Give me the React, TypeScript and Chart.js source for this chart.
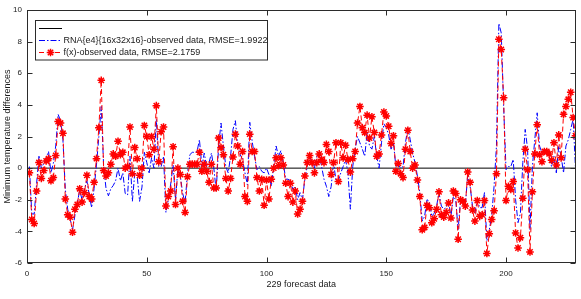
import React, { useEffect, useRef } from 'react';
import { Chart, registerables } from 'chart.js';

Chart.register(...registerables);

const X_MIN = 0;
const X_MAX = 229;
const Y_MIN = -6;
const Y_MAX = 10;
const X_STEP = 50;
const Y_STEP = 2;

const xTitle = '229 forecast data';
const yTitle = 'Minimum temperature differences';
const zeroLabel = '';
const rnaLabel = 'RNA{e4}{16x32x16}-observed data, RMSE=1.9922';
const fxLabel = 'f(x)-observed data, RMSE=2.1759';

// RNA{e4}{16x32x16} minus observed, forecasts 1..229
const rnaValues = [
  0.1, -2.9, -2.9, -1.0, 0.75, 0.0, 0.3, 0.65, 1.05, -0.3,
  0.3, 1.4, 3.4, 3.0, 1.8, -1.35, -2.6, -3.2, -3.9, -3.0,
  -2.2, -1.4, -2.0, -1.3, -0.8, -1.7, -2.5, -1.3, 0.2, 2.0,
  3.9, 0.1, -1.3, -1.75, -1.3, -1.1, -0.8, 0.0, -0.8, -0.3,
  -1.6, -1.7, 0.75, -2.1, -0.3, -0.5, -2.1, -1.2, 1.0, 0.35,
  -0.3, 0.65, 0.0, 3.1, 0.1, 0.1, 0.75, -2.8, -2.0, -1.0,
  0.2, -2.0, 0.0, -0.5, -1.6, -2.2, -0.3, 0.85, 1.0, 1.0,
  1.05, 1.8, 0.1, 0.95, 0.1, 0.35, 0.95, 0.0, -1.45, 1.4,
  2.85, 1.4, 0.1, -0.3, 0.75, 2.45, 3.0, 1.4, 0.85, 0.55,
  -0.3, -1.05, 2.9, 1.7, 0.75, -0.1, 0.1, -0.2, -0.3, 0.0,
  -0.4, -1.15, 0.1, 1.4, 0.75, 1.1, 0.35, -0.7, -0.7, -0.8,
  -1.35, -1.15, -2.0, -1.55, -2.0, -0.7, 0.1, 0.75, 0.35, 0.0,
  0.75, 0.95, 0.1, -0.7, -1.15, -1.8, -1.15, 0.35, -0.8, -0.8,
  -0.3, 0.1, 0.55, -0.3, -2.6, 0.1, 1.2, 2.0, 1.6, 1.2,
  0.75, 2.25, 1.4, 1.2, 2.0, 0.75, 0.0, 1.6, 2.8, 2.55,
  2.1, 1.2, 1.6, 0.1, 0.2, 0.0, 0.1, 1.6, 2.55, 1.8,
  0.95, 0.35, -0.5, -1.55, -3.35, -3.05, -2.0, -2.1, -3.05, -2.85,
  -2.4, -1.55, -2.4, -2.6, -2.5, -2.1, -3.05, -1.8, -2.0, -3.9,
  -2.0, -2.1, -2.4, -0.4, -1.15, -2.4, -2.85, -2.0, -2.5, -2.5,
  -1.55, -4.6, -3.9, -3.05, -1.15, 1.4, 9.15, 8.55, 3.9, -0.1,
  0.1, 0.1, 0.55, -2.0, -3.45, -2.85, 0.35, 2.45, 1.2, -3.9,
  0.1, 1.8, 3.5, 1.4, 0.95, 1.2, 1.05, 0.75, 0.1, 0.75,
  -0.3, 1.4, 0.75, -0.3, 1.4, 1.8, 2.45, 3.1, 0.0,
];

// f(x) minus observed, forecasts 1..229
const fxValues = [
  -0.3, -3.25, -3.5, -1.45, 0.35, -0.65, -0.15, 0.45, 0.6, -0.8,
  -0.6, 0.8, 2.95, 2.85, 2.2, -1.95, -2.95, -3.1, -4.05, -2.6,
  -2.3, -1.3, -2.15, -1.55, -0.45, -1.8, -1.95, -0.9, 0.6, 2.55,
  5.55, -0.15, -0.5, -0.3, 0.25, 0.9, 0.75, 1.7, 0.85, 1.0,
  0.0, 0.1, 2.6, -0.35, 1.3, 0.6, -0.45, 0.0, 2.7, 2.0,
  0.85, 2.0, 1.2, 3.95, 0.4, 2.3, 2.6, -2.4, -1.8, -1.45,
  1.35, -2.3, 0.0, -0.4, -2.1, -2.8, -0.55, 0.25, 0.25, 0.25,
  0.25, 1.0, -0.2, 0.25, -0.2, -0.9, 0.25, -1.25, -1.25, 1.9,
  1.3, 0.85, -0.65, -1.45, -0.65, 0.7, 2.15, 1.4, 0.25, 1.05,
  -1.8, -2.1, 2.15, 1.05, 1.05, -0.6, -1.45, -0.7, -2.35, -0.75,
  -1.95, -0.7, 0.0, 0.65, 0.15, 0.65, 0.2, -0.95, -1.8, -0.95,
  -2.15, -1.45, -2.9, -2.6, -2.1, -0.5, 0.35, 0.8, 0.35, -0.3,
  0.35, 0.9, 0.55, 0.35, 1.5, 1.05, -0.4, 0.35, 1.6, -0.85,
  1.6, 0.65, 1.45, 0.55, -0.25, 0.6, 1.05, 2.85, 3.9, 2.55,
  2.25, 3.35, 1.9, 3.25, 2.25, 0.75, 0.9, 2.1, 3.55, 3.3,
  2.65, 1.55, 2.05, -0.2, 0.3, -0.35, -0.6, 1.2, 2.4, 1.05,
  0.0, 0.2, -0.75, -1.8, -3.9, -3.75, -2.35, -2.5, -3.45, -3.2,
  -2.6, -1.5, -2.95, -3.1, -2.8, -2.2, -3.15, -1.45, -1.6, -4.5,
  -2.0, -2.1, -2.4, -0.25, -0.9, -2.65, -3.35, -2.05, -3.05, -2.95,
  -2.05, -5.4, -4.15, -3.25, -2.7, -0.35, 8.15, 7.5, 4.45, -2.05,
  -1.15, -1.35, -0.85, -4.1, -5.05, -4.4, -1.9, 1.2, -0.1, -5.3,
  -1.5, 0.9, 2.75, 0.85, 0.4, 1.05, 1.05, 0.9, 0.5, 1.6,
  0.2, 2.1, 0.65, 3.4, 3.9, 4.35, 4.8, 3.2, 2.05,
];

const FONT = 'Arial, "Liberation Sans", Helvetica, sans-serif';

const matlabFrame = {
  id: 'matlabFrame',
  afterDatasetsDraw(chart: any) {
    const { ctx, chartArea: a, scales } = chart;
    const L = Math.round(a.left) + 0.5;
    const R = Math.round(a.right) - 0.5;
    const T = Math.round(a.top) + 0.5;
    const B = Math.round(a.bottom) - 0.5;
    ctx.save();
    ctx.strokeStyle = '#2b2b2b';
    ctx.lineWidth = 1;
    ctx.setLineDash([]);
    ctx.strokeRect(L, T, R - L, B - T);
    const tl = 5;
    ctx.beginPath();
    scales.x.ticks.forEach((t: any) => {
      const px = Math.round(scales.x.getPixelForValue(t.value)) + 0.5;
      ctx.moveTo(px, B);
      ctx.lineTo(px, B - tl);
      ctx.moveTo(px, T);
      ctx.lineTo(px, T + tl);
    });
    scales.y.ticks.forEach((t: any) => {
      const py = Math.round(scales.y.getPixelForValue(t.value)) + 0.5;
      ctx.moveTo(L, py);
      ctx.lineTo(L + tl, py);
      ctx.moveTo(R, py);
      ctx.lineTo(R - tl, py);
    });
    ctx.stroke();
    ctx.restore();
  },
  afterDraw(chart: any) {
    const { ctx } = chart;
    const ds = chart.data.datasets;
    const bx = 35.5;
    const by = 20.5;
    const bw = 232;
    const bh = 39.5;
    ctx.save();
    ctx.fillStyle = '#ffffff';
    ctx.fillRect(bx, by, bw, bh);
    ctx.strokeStyle = '#2b2b2b';
    ctx.lineWidth = 1;
    ctx.setLineDash([]);
    ctx.strokeRect(bx, by, bw, bh);
    const rows = [28.5, 40.5, 52.5];
    const x0 = 39;
    const x1 = 62;
    ctx.font = '9px ' + FONT;
    ctx.textBaseline = 'middle';
    ctx.textAlign = 'left';
    ds.forEach((d: any, i: number) => {
      const y = rows[i];
      ctx.save();
      ctx.strokeStyle = d.borderColor;
      ctx.lineWidth = d.borderWidth;
      ctx.setLineDash(d.borderDash || []);
      ctx.beginPath();
      ctx.moveTo(x0, y);
      ctx.lineTo(x1, y);
      ctx.stroke();
      ctx.restore();
      if (d.pointRadius > 0) {
        ctx.save();
        ctx.strokeStyle = d.pointBorderColor;
        ctx.lineWidth = d.pointBorderWidth;
        const r = d.pointRadius;
        const cx = (x0 + x1) / 2;
        const q = r * Math.SQRT1_2;
        ctx.beginPath();
        ctx.moveTo(cx - r, y); ctx.lineTo(cx + r, y);
        ctx.moveTo(cx, y - r); ctx.lineTo(cx, y + r);
        ctx.moveTo(cx - q, y - q); ctx.lineTo(cx + q, y + q);
        ctx.moveTo(cx - q, y + q); ctx.lineTo(cx + q, y - q);
        ctx.stroke();
        ctx.restore();
      }
      if (d.label) {
        ctx.fillStyle = '#1a1a1a';
        ctx.fillText(d.label, 63.5, y + 0.5);
      }
    });
    ctx.restore();
  },
};

export default function App() {
  const ref = useRef<HTMLCanvasElement | null>(null);

  useEffect(() => {
    const canvas = ref.current;
    if (!canvas) return;
    const toPts = (arr: number[]) => arr.map((v, i) => ({ x: i + 1, y: v }));
    const chart = new Chart(canvas, {
      type: 'line',
      data: {
        datasets: [
          {
            label: zeroLabel,
            data: [
              { x: X_MIN, y: 0 },
              { x: X_MAX, y: 0 },
            ],
            borderColor: '#000000',
            borderWidth: 1,
            pointRadius: 0,
            order: 3,
          },
          {
            label: rnaLabel,
            data: toPts(rnaValues),
            borderColor: '#0000ff',
            borderWidth: 1,
            borderDash: [6, 2, 1.5, 2],
            pointRadius: 0,
            tension: 0,
            order: 2,
          },
          {
            label: fxLabel,
            data: toPts(fxValues),
            borderColor: '#ff0000',
            borderWidth: 1,
            borderDash: [5, 3],
            pointStyle: 'star',
            pointRadius: 3.8,
            pointBorderColor: '#ff0000',
            pointBackgroundColor: '#ff0000',
            pointBorderWidth: 1.5,
            tension: 0,
            order: 1,
          },
        ] as any,
      },
      options: {
        animation: false,
        responsive: false,
        maintainAspectRatio: false,
        events: [],
        layout: { padding: { top: 10, right: 5, left: 0, bottom: 0 } },
        plugins: {
          legend: { display: false },
          tooltip: { enabled: false },
          title: { display: false },
        },
        scales: {
          x: {
            type: 'linear',
            min: X_MIN,
            max: X_MAX,
            grid: { display: false, drawTicks: false },
            border: { display: false },
            ticks: {
              stepSize: X_STEP,
              includeBounds: false,
              color: '#1a1a1a',
              font: { family: FONT, size: 8 },
              padding: 6,
              maxRotation: 0,
            },
            title: {
              display: true,
              text: xTitle,
              color: '#1a1a1a',
              font: { family: FONT, size: 9 },
              padding: { top: 0, bottom: 9 },
            },
            afterFit: (s: any) => {
              s.height = 36;
            },
          },
          y: {
            type: 'linear',
            min: Y_MIN,
            max: Y_MAX,
            grid: { display: false, drawTicks: false },
            border: { display: false },
            ticks: {
              stepSize: Y_STEP,
              color: '#1a1a1a',
              font: { family: FONT, size: 8 },
              padding: 5,
            },
            title: {
              display: true,
              text: yTitle,
              color: '#1a1a1a',
              font: { family: FONT, size: 9 },
              padding: { top: 2, bottom: 0 },
            },
            afterFit: (s: any) => {
              s.width = 27;
            },
          },
        },
      } as any,
      plugins: [matlabFrame],
    });
    return () => chart.destroy();
  }, []);

  return (
    <div
      style={{
        position: 'fixed',
        left: 0,
        top: 0,
        width: 581,
        height: 299,
        background: '#ffffff',
      }}
    >
      <canvas ref={ref} width={581} height={299} style={{ display: 'block' }} />
    </div>
  );
}
